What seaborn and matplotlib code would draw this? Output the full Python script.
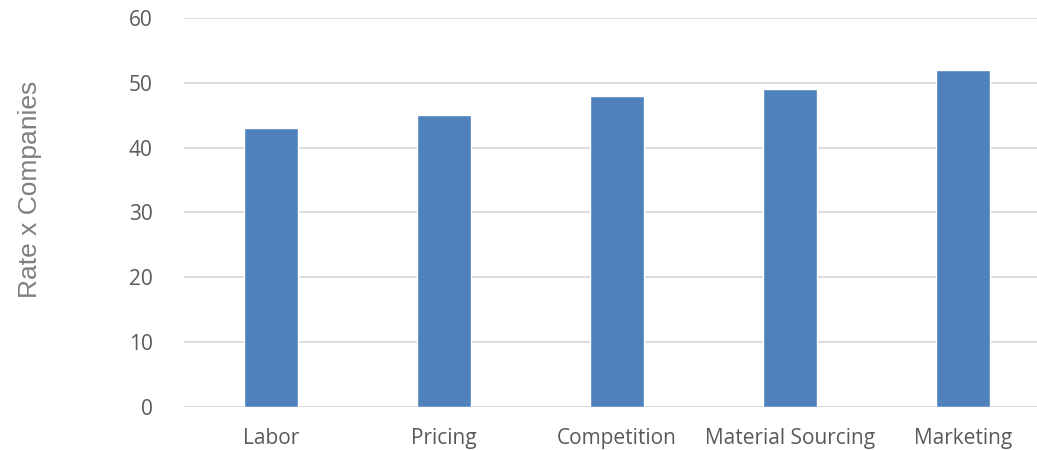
import matplotlib
matplotlib.use("Agg")
import matplotlib.pyplot as plt
import pandas as pd
import seaborn as sns

# data
categories = ["Labor", "Pricing", "Competition", "Material Sourcing", "Marketing"]
values = [43, 45, 48, 49, 52]

df = pd.DataFrame({"Category": categories, "Value": values})

sns.set_style("white")
plt.rcParams["font.family"] = ["Open Sans", "DejaVu Sans"]

fig = plt.figure(figsize=(10.37, 4.5), dpi=100)
# the right edge runs past the picture, as in the source (cropped chart)
ax = fig.add_axes([0.1779, 0.0956, 0.8341, 0.8644])

sns.barplot(data=df, x="Category", y="Value", color="#4f81bd",
            saturation=1, width=0.31, ax=ax, zorder=3)

ax.set_ylim(0, 60)
ax.set_yticks(range(0, 61, 10))
ax.set_xlim(-0.5, len(categories) - 0.5)
ax.yaxis.grid(True, color="#d9d9d9", lw=1.3, zorder=0)
ax.xaxis.grid(False)
for s in ax.spines.values():
    s.set_visible(False)

ax.tick_params(axis="y", length=0, pad=23, labelsize=15, labelcolor="#595959")
ax.tick_params(axis="x", length=0, pad=15, labelsize=15, labelcolor="#595959")
ax.set_xlabel("")
ax.set_ylabel("Rate x Companies", fontsize=19, color="#7f7f7f",
              family=["Liberation Sans", "DejaVu Sans"], labelpad=60)
ax.yaxis.set_label_coords(-0.165, 0.5605)

fig.savefig("out.png", dpi=100)
